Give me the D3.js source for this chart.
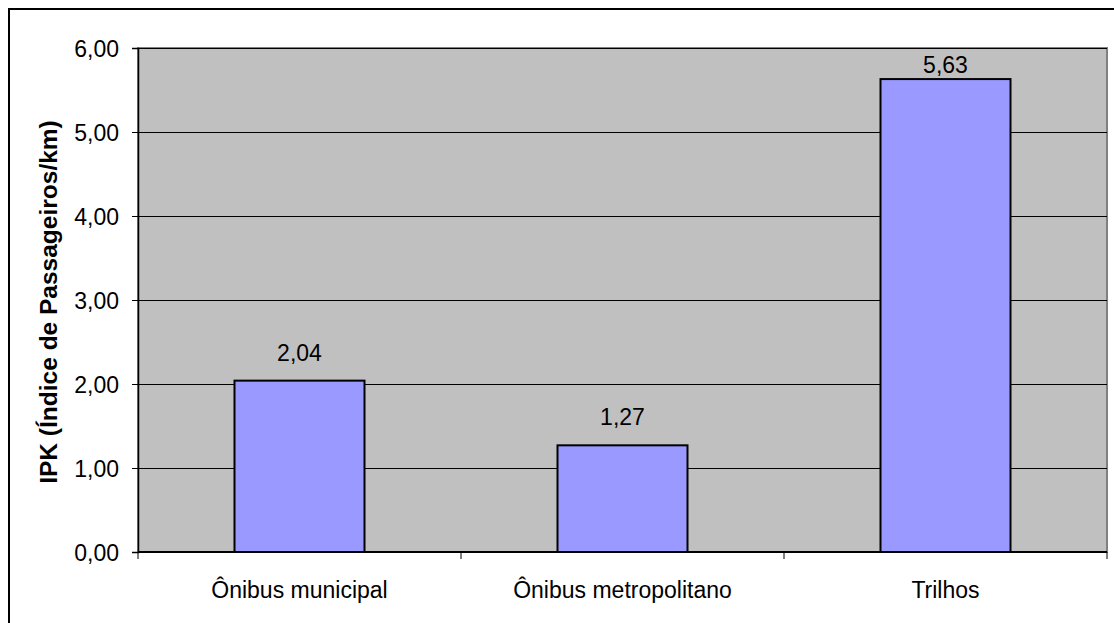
<!DOCTYPE html>
<html><head><meta charset="utf-8">
<script src="https://cdn.jsdelivr.net/npm/d3@7"></script>
<style>body{margin:0;background:#fff}svg{display:block}text{font-family:Arial,"Liberation Sans",sans-serif;fill:#000}</style>
</head><body>
<script>
const categories = ["Ônibus municipal", "Ônibus metropolitano", "Trilhos"];
const values = [2.04, 1.27, 5.63];
const valueLabels = ["2,04", "1,27", "5,63"];
const yTicks = [0, 1, 2, 3, 4, 5, 6];
const yTickLabels = ["0,00", "1,00", "2,00", "3,00", "4,00", "5,00", "6,00"];
const yTitle = "IPK (Índice de Passageiros/km)";

const W = 1114, H = 623;
const m = {left: 138, right: 1107, top: 48, bottom: 552};
const svg = d3.select("body").append("svg").attr("width", W).attr("height", H);
svg.append("rect").attr("x", 9).attr("y", 9).attr("width", 1120).attr("height", 640)
  .attr("fill", "#fff").attr("stroke", "#000").attr("stroke-width", 2);

const x = d3.scaleBand().domain(categories).range([m.left, m.right]).paddingInner(0).paddingOuter(0);
const y = d3.scaleLinear().domain([0, 6]).range([m.bottom, m.top]);

svg.append("rect").attr("x", m.left).attr("y", m.top).attr("width", m.right - m.left).attr("height", m.bottom - m.top)
  .attr("fill", "#C0C0C0").attr("stroke", "#808080").attr("stroke-width", 2);

svg.append("g").selectAll("line").data(yTicks.slice(1)).join("line")
  .attr("x1", m.left).attr("x2", m.right).attr("y1", d => Math.round(y(d)) + 0.5).attr("y2", d => Math.round(y(d)) + 0.5)
  .attr("stroke", "#000").attr("stroke-width", 1);

const barW = 130;
svg.append("g").selectAll("rect").data(values).join("rect")
  .attr("x", (d, i) => x(categories[i]) + x.bandwidth() / 2 - barW / 2)
  .attr("y", d => y(d)).attr("width", barW).attr("height", d => y(0) - y(d))
  .attr("fill", "#9999FF").attr("stroke", "#000").attr("stroke-width", 2);

svg.append("g").selectAll("text").data(values).join("text")
  .attr("x", (d, i) => x(categories[i]) + x.bandwidth() / 2)
  .attr("y", d => Math.max(y(d) - 20, m.top + 25)).attr("text-anchor", "middle").attr("font-size", "23px")
  .text((d, i) => valueLabels[i]);

// y axis
const yAxis = d3.axisLeft(y).tickValues(yTicks).tickFormat((d, i) => yTickLabels[i]).tickSize(6).tickPadding(13);
const gy = svg.append("g").attr("transform", `translate(${m.left},0)`).call(yAxis);
gy.select(".domain").attr("stroke", "#000").attr("stroke-width", 1.5);
gy.selectAll(".tick line").attr("stroke", "#000");
gy.selectAll(".tick text").attr("font-size", "23px").attr("font-family", "Arial, 'Liberation Sans', sans-serif").attr("dy", "0.35em").attr("fill", "#000");

// x axis
svg.append("line").attr("x1", m.left).attr("x2", m.right).attr("y1", m.bottom).attr("y2", m.bottom).attr("stroke", "#000").attr("stroke-width", 2);
const bounds = categories.map(c => x(c)).concat([x(categories[categories.length - 1]) + x.bandwidth()]);
svg.append("g").selectAll("line").data(bounds).join("line")
  .attr("x1", d => d).attr("x2", d => d).attr("y1", m.bottom).attr("y2", m.bottom + 7)
  .attr("stroke", "#000").attr("stroke-width", 1);
svg.append("g").selectAll("text").data(categories).join("text")
  .attr("x", d => x(d) + x.bandwidth() / 2).attr("y", 598)
  .attr("text-anchor", "middle").attr("font-size", "23px").text(d => d);

svg.append("text").attr("transform", `translate(57,${(m.top + m.bottom) / 2 + 2}) rotate(-90)`)
  .attr("text-anchor", "middle").attr("font-size", "24.5px").attr("font-weight", "bold").text(yTitle);
</script>
</body></html>
